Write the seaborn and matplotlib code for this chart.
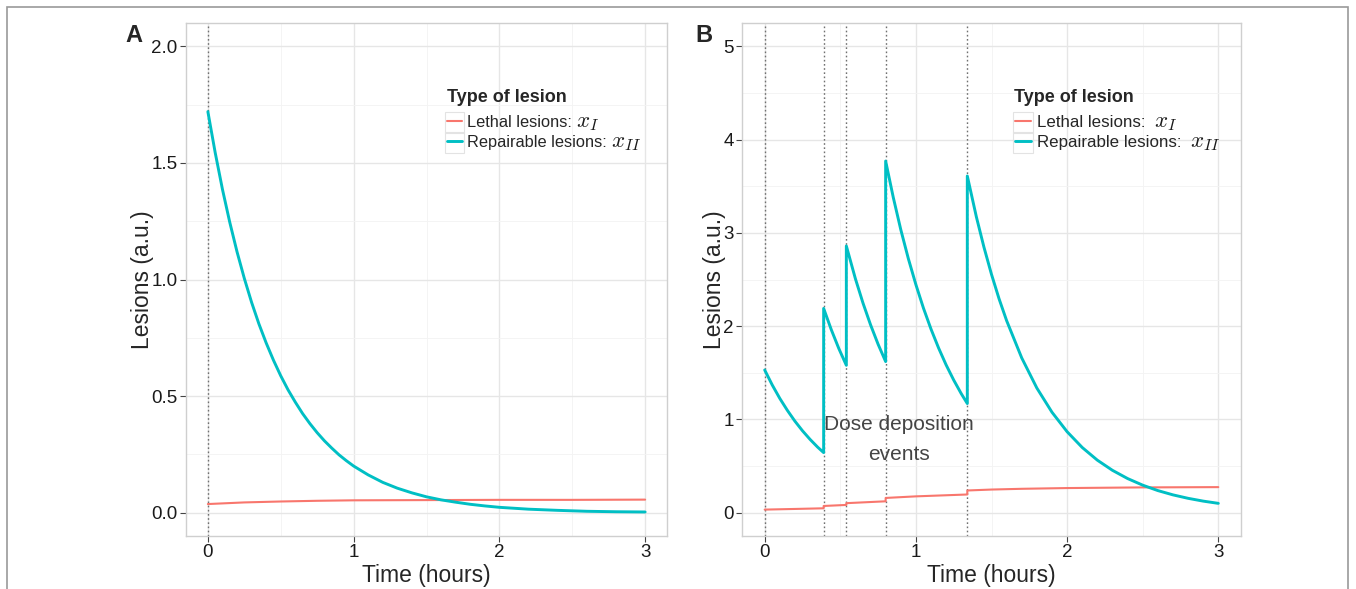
import numpy as np
import pandas as pd
import matplotlib
matplotlib.use("Agg")
import matplotlib.pyplot as plt
import seaborn as sns
from matplotlib.ticker import MultipleLocator
from matplotlib.patches import Rectangle
from matplotlib.lines import Line2D
from matplotlib.transforms import IdentityTransform

# ---------------- data ----------------
# Panel A
tA_rep = [0, 0.05, 0.1, 0.15, 0.2, 0.25, 0.3, 0.35, 0.4, 0.45, 0.5, 0.55, 0.6, 0.65,
          0.7, 0.75, 0.8, 0.85, 0.9, 0.95, 1.0, 1.1, 1.2, 1.3, 1.4, 1.5, 1.6, 1.7,
          1.8, 1.9, 2.0, 2.2, 2.4, 2.6, 2.8, 3.0]
vA_rep = [1.72, 1.545, 1.387, 1.246, 1.119, 1.005, 0.902, 0.810, 0.728, 0.654, 0.587,
          0.527, 0.474, 0.425, 0.382, 0.343, 0.308, 0.277, 0.248, 0.223, 0.200, 0.162,
          0.130, 0.105, 0.085, 0.068, 0.055, 0.045, 0.036, 0.029, 0.023, 0.015, 0.010,
          0.006, 0.004, 0.003]
tA_let = [0, 0.25, 0.5, 0.75, 1.0, 1.5, 2.0, 2.5, 3.0]
vA_let = [0.037, 0.044, 0.048, 0.051, 0.053, 0.054, 0.055, 0.055, 0.056]
eventsA = [0]

# Panel B
tB_rep = [0, 0.05, 0.1, 0.15, 0.2, 0.25, 0.3, 0.35, 0.39,
          0.39, 0.44, 0.49, 0.54,
          0.54, 0.6, 0.65, 0.7, 0.75, 0.8,
          0.8, 0.85, 0.9, 0.95, 1.0, 1.05, 1.1, 1.15, 1.2, 1.25, 1.3, 1.34,
          1.34, 1.4, 1.45, 1.5, 1.55, 1.6, 1.7, 1.8, 1.9, 2.0, 2.1, 2.2, 2.3, 2.4,
          2.5, 2.6, 2.7, 2.8, 2.9, 3.0]
vB_rep = [1.53, 1.369, 1.225, 1.097, 0.981, 0.878, 0.786, 0.703, 0.644,
          2.19, 1.964, 1.761, 1.58,
          2.86, 2.508, 2.248, 2.015, 1.806, 1.62,
          3.77, 3.383, 3.035, 2.724, 2.445, 2.193, 1.968, 1.766, 1.584, 1.422, 1.276, 1.17,
          3.61, 3.171, 2.847, 2.555, 2.293, 2.059, 1.659, 1.336, 1.077, 0.868, 0.699,
          0.563, 0.454, 0.366, 0.295, 0.237, 0.191, 0.154, 0.124, 0.100]
tB_let = [0, 0.2, 0.39, 0.39, 0.54, 0.54, 0.8, 0.8, 1.0, 1.34, 1.34, 1.5, 1.7, 2.0, 2.5, 3.0]
vB_let = [0.033, 0.040, 0.047, 0.072, 0.083, 0.102, 0.122, 0.158, 0.175, 0.195, 0.238,
          0.248, 0.256, 0.264, 0.271, 0.274]
eventsB = [0, 0.39, 0.54, 0.80, 1.34]

label_text = ["Lethal lesions:", "Repairable lesions:"]
label_math = ["$x_I$", "$x_{II}$"]
legend_title = "Type of lesion"
col_let = "#F8766D"
col_rep = "#00BFC4"

# ---------------- style ----------------
sns.set_theme(style="whitegrid")
plt.rcParams["font.family"] = ["Liberation Sans", "DejaVu Sans"]
plt.rcParams["mathtext.fontset"] = "cm"

W, H = 1356, 589
fig = plt.figure(figsize=(W / 100, H / 100), dpi=100)
fig.patch.set_facecolor("white")
axA = fig.add_axes([186 / W, 53 / H, 481 / W, 513 / H])
axB = fig.add_axes([742 / W, 53 / H, 499 / W, 513 / H])


def draw(ax, t_let, v_let, t_rep, v_rep, events, ylim, ymaj, yfmt, leg_x, leg_fs, hlen, hpad):
    dl = pd.DataFrame({"t": t_let, "v": v_let})
    dr = pd.DataFrame({"t": t_rep, "v": v_rep})
    for ev in events:
        ax.axvline(ev, color="#707070", ls=(0, (1.2, 1.8)), lw=1.0, zorder=1.5)
    sns.lineplot(data=dl, x="t", y="v", ax=ax, color=col_let, lw=1.5,
                 estimator=None, sort=False, zorder=3)
    sns.lineplot(data=dr, x="t", y="v", ax=ax, color=col_rep, lw=2.1,
                 estimator=None, sort=False, zorder=4)
    ax.set_xlim(-0.15, 3.15)
    ax.set_ylim(*ylim)
    ax.set_facecolor("white")
    ax.xaxis.set_major_locator(MultipleLocator(1))
    ax.xaxis.set_minor_locator(MultipleLocator(0.5))
    ax.yaxis.set_major_locator(MultipleLocator(ymaj))
    ax.yaxis.set_minor_locator(MultipleLocator(ymaj / 2))
    ax.yaxis.set_major_formatter(yfmt)
    ax.grid(True, which="major", color="#E6E6E6", lw=1.0)
    ax.grid(True, which="minor", color="#F3F3F3", lw=0.6)
    ax.set_axisbelow(True)
    for s in ax.spines.values():
        s.set_visible(True)
        s.set_color("#CFCFCF")
        s.set_linewidth(1.0)
    ax.tick_params(axis="both", which="major", length=4, width=0.8, color="#444444",
                   labelsize=13.5, labelcolor="#1a1a1a", direction="out", pad=2,
                   bottom=True, left=True)
    ax.tick_params(axis="both", which="minor", length=0)
    ax.set_xlabel("Time (hours)", fontsize=16.5, labelpad=2)
    ax.set_ylabel("Lesions (a.u.)", fontsize=16.5, labelpad=-2)
    handles = [Line2D([], [], color=col_let, lw=1.5), Line2D([], [], color=col_rep, lw=2.1)]
    leg = ax.legend(handles, label_text, loc="center left",
                    bbox_to_anchor=(leg_x, (536 - 132.5) / 513), frameon=False,
                    fontsize=leg_fs, handlelength=hlen, handletextpad=hpad,
                    labelspacing=0.31, borderpad=0, borderaxespad=0)
    return leg


legA = draw(axA, tA_let, vA_let, tA_rep, vA_rep, eventsA, (-0.1, 2.1), 0.5, "{x:.1f}",
            (447 - 186) / 481, 11.8, 0.9, 0.35)
legB = draw(axB, tB_let, vB_let, tB_rep, vB_rep, eventsB, (-0.25, 5.25), 1, "{x:.0f}",
            (1015 - 742) / 499, 12.2, 0.92, 0.38)

# legend titles
fig.text(447 / W, 1 - 98 / H, legend_title, fontsize=13, weight="bold", ha="left", va="center")
fig.text(1014 / W, 1 - 98 / H, legend_title, fontsize=13, weight="bold", ha="left", va="center")

axB.text(0.89, 0.788, "Dose deposition\nevents", ha="center", va="center",
         fontsize=15, color="#444444", linespacing=1.72, zorder=5)

fig.text(134 / W, 1 - 35 / H, "A", fontsize=17, weight="bold", ha="center", va="center")
fig.text(704 / W, 1 - 35 / H, "B", fontsize=17, weight="bold", ha="center", va="center")

fig.add_artist(Rectangle((7 / W, -0.05), (1348 - 7) / W, 1 - 7 / H + 0.05,
                         transform=fig.transFigure, fill=False, ec="#9a9a9a", lw=1.2))

# math symbols of the legend labels (larger, as in the reference) and key boxes
fig.canvas.draw()
renderer = fig.canvas.get_renderer()
for leg, gap in ((legA, 4), (legB, 8)):
    for txt, m, h in zip(leg.get_texts(), label_math, leg.legend_handles):
        bb = txt.get_window_extent(renderer)
        _, _, d = renderer.get_text_width_height_descent("lp", txt.get_fontproperties(), ismath=False)
        base = bb.y0 + d
        fig.text(bb.x1 + gap, base, m, fontsize=16.5, ha="left", va="baseline",
                 transform=IdentityTransform(), color="#1a1a1a")
        hb = h.get_window_extent(renderer)
        cy = (bb.y0 + bb.y1) / 2
        fig.add_artist(Rectangle((hb.x0 - 2, cy - 10.5), (hb.x1 - hb.x0) + 4, 21,
                                 transform=IdentityTransform(), fill=False,
                                 ec="#E3E3E3", lw=0.8))

fig.savefig("out.png", dpi=100, facecolor="white")
